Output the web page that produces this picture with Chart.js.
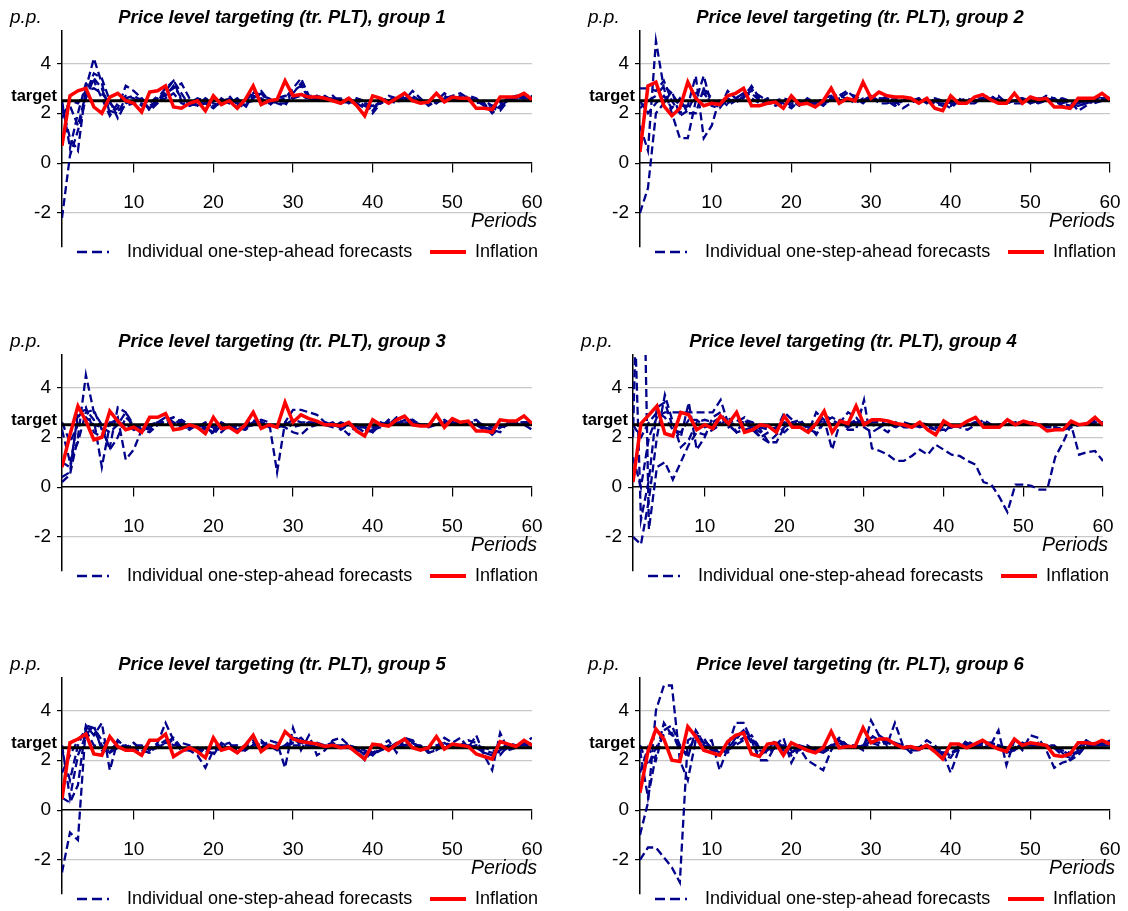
<!DOCTYPE html>
<html>
<head>
<meta charset="utf-8">
<script src="https://cdn.jsdelivr.net/npm/chart.js@4.4.1/dist/chart.umd.min.js"></script>
<style>
html, body { margin: 0; padding: 0; background: #fff; }
#wrap { position: relative; width: 1128px; height: 911px; overflow: hidden; }
#wrap canvas { position: absolute; }
</style>
</head>
<body>
<div id="wrap"></div>
<script>
// periods 1..60 (x categories)
const periods = Array.from({ length: 60 }, (_, i) => i + 1);
const target = 2.5;
const yTicks = [-2, 0, 2, 4];
const xTicks = [10, 20, 30, 40, 50, 60];
const titles = [
    "Price level targeting (tr. PLT), group 1",
    "Price level targeting (tr. PLT), group 2",
    "Price level targeting (tr. PLT), group 3",
    "Price level targeting (tr. PLT), group 4",
    "Price level targeting (tr. PLT), group 5",
    "Price level targeting (tr. PLT), group 6"
];

// group 1
const infl1 = [0.7,2.7,2.9,3.0,2.25,2.0,2.65,2.8,2.5,2.4, 2.05,2.85,2.9,3.1,2.25,2.2,2.4,2.5,2.1,2.7, 2.35,2.5,2.2,2.55,3.1,2.35,2.5,2.55,3.3,2.7, 2.75,2.65,2.65,2.6,2.5,2.4,2.6,2.3,1.9,2.7, 2.6,2.4,2.6,2.8,2.5,2.4,2.45,2.8,2.45,2.65, 2.6,2.6,2.2,2.2,2.15,2.65,2.65,2.65,2.8,2.55];
const g1f1 = [-2.2,0.3,1.3,2.6,3.4,3.0,2.1,2.0,2.6,2.7, 2.5,2.2,2.6,3.0,3.3,2.5,2.4,2.3,2.4,2.2, 2.6,2.4,2.5,2.3,2.6,2.8,2.4,2.5,2.6,3.0, 3.4,2.7,2.7,2.6,2.6,2.5,2.4,2.5,2.3,2.1, 2.5,2.6,2.5,2.6,2.7,2.5,2.4,2.4,2.7,2.5, 2.6,2.6,2.5,2.3,2.2,2.1,2.5,2.6,2.7,2.6];
const g1f2 = [2.3,1.0,0.5,3.0,4.2,3.2,2.0,2.2,3.1,2.9, 2.6,2.3,2.5,2.9,3.3,2.8,2.3,2.5,2.3,2.6, 2.4,2.6,2.4,2.2,2.8,2.9,2.5,2.4,2.4,2.9, 3.1,2.6,2.7,2.5,2.6,2.6,2.4,2.6,2.5,2.0, 2.4,2.7,2.6,2.5,2.9,2.6,2.3,2.5,2.6,2.7, 2.8,2.6,2.5,2.4,2.0,2.3,2.6,2.7,2.6,2.5];
const g1f3 = [2.0,2.3,1.5,2.8,3.6,3.4,2.5,1.8,2.4,2.5, 2.6,2.1,2.4,2.8,3.0,3.2,2.6,2.3,2.6,2.4, 2.3,2.7,2.3,2.4,2.9,2.7,2.6,2.4,2.3,2.8, 3.2,2.6,2.5,2.7,2.5,2.5,2.6,2.4,2.2,2.3, 2.6,2.5,2.4,2.7,2.6,2.4,2.5,2.5,2.8,2.6, 2.5,2.7,2.6,2.3,2.1,2.4,2.6,2.7,2.8,2.6];
const g1f4 = [2.5,0.6,2.0,3.2,3.3,2.6,1.9,2.4,2.7,2.6, 2.3,2.4,2.7,2.7,3.1,2.6,2.4,2.6,2.5,2.2, 2.5,2.4,2.6,2.3,2.7,2.6,2.3,2.6,2.7,2.6, 2.8,2.5,2.6,2.5,2.7,2.4,2.5,2.5,2.4,2.3, 2.4,2.5,2.6,2.6,2.5,2.5,2.5,2.4,2.6,2.5, 2.7,2.5,2.4,2.5,2.3,2.2,2.5,2.6,2.6,2.7];
const g1f5 = [1.8,2.5,2.4,2.9,3.0,2.8,2.4,2.1,2.3,2.4, 2.4,2.2,2.5,2.6,2.8,2.4,2.3,2.4,2.4,2.3, 2.4,2.5,2.4,2.4,2.5,2.6,2.4,2.5,2.5,2.6, 2.7,2.6,2.6,2.6,2.5,2.5,2.5,2.4,2.3,2.2, 2.5,2.5,2.5,2.6,2.6,2.5,2.5,2.5,2.6,2.6, 2.6,2.6,2.5,2.4,2.3,2.3,2.5,2.6,2.6,2.6];

// group 2
const infl2 = [0.45,3.1,3.25,2.3,1.9,2.2,3.25,2.6,2.3,2.4, 2.35,2.7,2.8,3.0,2.3,2.3,2.4,2.45,2.2,2.7, 2.35,2.4,2.25,2.5,3.0,2.4,2.6,2.5,3.25,2.6, 2.85,2.7,2.65,2.65,2.6,2.4,2.6,2.2,2.1,2.7, 2.4,2.4,2.65,2.75,2.55,2.4,2.4,2.8,2.4,2.65, 2.55,2.6,2.25,2.25,2.2,2.6,2.6,2.6,2.8,2.55];
const g2f1 = [-2.0,-1.0,2.0,2.4,2.9,1.9,2.1,2.8,3.0,2.3, 2.4,2.4,2.6,2.8,3.0,2.5,2.4,2.4,2.5,2.3, 2.5,2.4,2.3,2.4,2.6,2.8,2.5,2.6,2.5,2.7, 2.5,2.6,2.4,2.5,2.6,2.5,2.5,2.4,2.3,2.3, 2.6,2.4,2.4,2.6,2.7,2.5,2.4,2.5,2.6,2.4, 2.6,2.6,2.5,2.3,2.2,2.4,2.5,2.5,2.6,2.6];
const g2f2 = [1.5,0.5,4.9,3.0,2.0,1.0,1.0,2.5,3.5,2.3, 2.2,2.6,2.4,2.7,2.9,2.7,2.5,2.5,2.4,2.2, 2.5,2.4,2.5,2.3,2.6,2.7,2.9,2.6,2.4,2.7, 2.6,2.5,2.3,2.5,2.6,2.4,2.6,2.5,2.4,2.2, 2.5,2.5,2.5,2.5,2.6,2.7,2.4,2.5,2.6,2.4, 2.5,2.7,2.6,2.4,2.5,2.1,2.3,2.5,2.6,2.5];
const g2f3 = [3.0,3.0,2.9,3.3,2.5,2.0,2.3,3.5,1.0,1.5, 2.6,2.3,2.5,2.6,3.1,2.6,2.5,2.3,2.4,2.5, 2.4,2.5,2.3,2.5,2.6,2.6,2.8,2.7,2.5,2.7, 2.4,2.4,2.5,2.2,2.4,2.6,2.5,2.5,2.3,2.5, 2.4,2.4,2.6,2.6,2.6,2.4,2.5,2.5,2.5,2.5, 2.4,2.5,2.6,2.5,2.4,2.3,2.4,2.5,2.7,2.6];
const g2f4 = [2.5,2.0,2.4,2.7,2.2,2.6,2.0,2.0,3.0,2.6, 2.2,2.9,2.6,2.8,2.6,2.4,2.6,2.5,2.6,2.5, 2.3,2.6,2.4,2.6,2.7,2.5,2.6,2.4,2.6,2.6, 2.5,2.7,2.6,2.5,2.5,2.6,2.4,2.6,2.5,2.4, 2.5,2.6,2.5,2.6,2.5,2.6,2.5,2.4,2.4,2.6, 2.5,2.5,2.5,2.6,2.5,2.4,2.5,2.4,2.5,2.5];
const g2f5 = [2.2,2.5,2.7,3.1,2.8,2.3,2.3,2.6,2.8,2.4, 2.4,2.5,2.5,2.7,2.8,2.5,2.4,2.4,2.5,2.4, 2.4,2.5,2.4,2.4,2.5,2.6,2.6,2.5,2.5,2.6, 2.6,2.6,2.5,2.5,2.5,2.5,2.5,2.4,2.4,2.3, 2.5,2.5,2.5,2.6,2.6,2.5,2.5,2.5,2.6,2.5, 2.5,2.6,2.5,2.4,2.3,2.3,2.4,2.5,2.6,2.5];

// group 3
const infl3 = [0.8,2.1,3.25,2.65,1.9,2.0,3.05,2.65,2.3,2.4, 2.2,2.8,2.8,2.95,2.3,2.35,2.5,2.4,2.15,2.8, 2.35,2.4,2.2,2.5,3.0,2.35,2.5,2.4,3.4,2.6, 2.9,2.75,2.65,2.5,2.5,2.45,2.6,2.25,2.05,2.7, 2.5,2.45,2.7,2.85,2.5,2.45,2.45,2.9,2.4,2.75, 2.6,2.65,2.25,2.25,2.2,2.7,2.65,2.65,2.85,2.55];
const g3f1 = [0.2,0.5,2.0,4.5,3.0,2.5,1.5,2.0,2.8,2.5, 2.3,2.4,2.6,2.6,2.8,2.6,2.4,2.5,2.4,2.2, 2.6,2.4,2.4,2.3,2.6,2.7,2.6,0.6,2.6,3.1, 3.1,3.0,2.9,2.6,2.5,2.4,2.5,2.5,2.3,2.2, 2.6,2.5,2.5,2.6,2.7,2.5,2.5,2.5,2.6,2.6, 2.6,2.6,2.6,2.4,2.3,2.4,2.5,2.6,2.6,2.6];
const g3f2 = [0.4,0.6,3.0,3.1,2.7,0.8,2.5,2.8,1.1,1.5, 2.3,2.2,2.5,2.7,2.8,2.4,2.4,2.4,2.5,2.1, 2.5,2.4,2.3,2.4,2.6,2.6,2.5,2.5,2.4,2.2, 2.1,2.4,2.5,2.6,2.5,2.4,2.1,2.5,2.4,2.3, 2.4,2.7,2.5,2.6,2.6,2.5,2.4,2.5,2.5,2.6, 2.5,2.6,2.7,2.4,2.3,2.2,2.6,2.5,2.5,2.3];
const g3f3 = [2.3,1.0,1.8,3.0,3.1,2.3,1.6,3.2,3.0,2.3, 2.4,2.3,2.5,2.6,2.5,2.6,2.3,2.5,2.5,2.4, 2.2,2.5,2.4,2.3,2.5,2.6,2.4,2.5,2.6,2.4, 2.5,2.6,2.5,2.5,2.6,2.3,2.5,2.4,2.4,2.2, 2.5,2.5,2.8,2.5,2.6,2.5,2.5,2.5,2.6,2.5, 2.6,2.5,2.5,2.4,2.1,2.4,2.5,2.5,2.6,2.5];
const g3f4 = [2.6,1.8,2.5,2.8,2.5,2.4,2.2,2.5,3.0,2.5, 2.4,2.4,2.6,2.7,2.6,2.7,2.5,2.4,2.6,2.4, 2.4,2.5,2.5,2.4,2.5,2.6,2.5,2.4,2.5,2.5, 2.5,2.5,2.6,2.5,2.4,2.6,2.5,2.5,2.4,2.4, 2.5,2.6,2.6,2.6,2.5,2.5,2.5,2.5,2.6,2.5, 2.5,2.5,2.6,2.5,2.4,2.4,2.5,2.5,2.6,2.5];
const g3f5 = [1.0,0.8,2.8,3.2,2.2,2.0,2.6,2.6,2.5,2.3, 2.2,2.5,2.6,2.8,2.6,2.4,2.4,2.5,2.3,2.3, 2.6,2.4,2.3,2.5,2.7,2.5,2.5,2.4,2.5,2.7, 2.6,2.6,2.6,2.5,2.5,2.5,2.5,2.4,2.2,2.3, 2.6,2.5,2.5,2.7,2.7,2.5,2.5,2.5,2.7,2.5, 2.6,2.6,2.5,2.3,2.2,2.4,2.6,2.6,2.6,2.6];

// group 4
const infl4 = [0.2,2.55,2.9,3.25,2.15,2.05,3.0,2.9,2.3,2.5, 2.35,2.85,2.55,3.0,2.2,2.3,2.5,2.45,2.2,2.85, 2.4,2.4,2.2,2.55,3.05,2.2,2.65,2.55,3.25,2.5, 2.7,2.7,2.65,2.55,2.5,2.4,2.6,2.3,2.1,2.65, 2.45,2.45,2.65,2.8,2.4,2.4,2.4,2.7,2.5,2.65, 2.55,2.5,2.25,2.3,2.3,2.65,2.5,2.55,2.8,2.5];
const g4f1 = [-2.0,-2.3,-0.5,2.0,3.7,2.6,1.6,1.9,2.6,2.7, 2.6,2.8,2.5,2.2,2.7,2.6,2.3,1.8,1.8,2.4, 2.6,2.6,2.3,2.4,2.9,2.7,2.5,2.4,2.6,2.6, 2.5,2.4,2.6,2.5,2.5,2.4,2.5,2.5,2.4,2.4, 2.4,2.5,2.5,2.6,2.6,2.5,2.5,2.5,2.6,2.6, 2.5,2.5,2.5,2.4,2.3,2.4,2.5,2.5,2.6,2.6];
const g4f2 = [9.0,-1.3,0.3,3.2,3.4,2.4,2.0,3.4,1.5,2.0, 2.8,3.0,2.4,2.6,2.8,2.4,2.2,2.5,2.3,3.0, 2.7,2.4,2.5,2.1,2.6,2.8,2.6,3.0,2.8,2.4, 2.2,2.4,2.2,2.6,2.4,2.4,2.6,2.5,2.4,2.2, 2.5,2.4,2.3,2.5,2.7,2.5,2.5,2.6,2.5,2.5, 2.6,2.5,2.5,2.4,2.3,2.5,2.5,2.5,2.7,2.5];
const g4f3 = [2.0,15.0,-1.7,0.8,1.0,0.3,1.0,1.7,2.2,2.1, 2.3,2.5,2.8,2.2,2.3,2.4,2.0,1.8,2.1,2.4, 2.6,2.7,2.3,2.2,2.6,2.5,2.7,2.5,2.6,2.5, 2.7,2.6,2.5,2.4,2.6,2.5,2.4,2.5,2.3,2.3, 2.4,2.5,2.5,2.6,2.5,2.4,2.5,2.5,2.6,2.6, 2.6,2.5,2.5,2.3,2.4,2.4,2.5,2.5,2.6,2.5];
const g4f4 = [1.2,0.0,2.0,2.8,3.0,3.0,3.0,3.0,3.0,3.0, 3.0,3.5,2.5,2.2,2.7,2.3,2.0,2.2,2.4,2.2, 2.5,2.4,2.2,3.0,2.7,1.5,2.6,2.3,2.3,3.5, 1.55,1.45,1.3,1.05,1.05,1.25,1.5,1.3,1.7,1.5, 1.3,1.25,1.05,0.9,0.2,0.1,-0.4,-1.0,0.1,0.1, 0.05,-0.1,-0.1,1.2,1.8,2.5,1.3,1.4,1.45,1.05];
const g4f5 = [2.5,2.0,2.6,3.0,2.8,2.3,2.2,2.7,2.7,2.4, 2.5,2.6,2.6,2.7,2.5,2.4,2.4,2.3,2.4,2.6, 2.5,2.5,2.4,2.5,2.7,2.5,2.6,2.5,2.7,2.6, 2.6,2.6,2.5,2.5,2.5,2.4,2.5,2.4,2.3,2.5, 2.5,2.4,2.5,2.6,2.5,2.5,2.5,2.5,2.6,2.5, 2.6,2.5,2.4,2.4,2.3,2.5,2.5,2.5,2.6,2.6];

// group 5
const infl5 = [0.45,2.7,2.85,3.05,2.25,2.2,2.95,2.55,2.4,2.4, 2.2,2.8,2.8,3.05,2.15,2.35,2.5,2.35,2.1,2.9, 2.4,2.5,2.3,2.6,3.0,2.35,2.6,2.5,3.15,2.85, 2.75,2.7,2.65,2.55,2.6,2.5,2.55,2.3,2.05,2.65, 2.6,2.4,2.65,2.85,2.5,2.4,2.5,2.95,2.45,2.65, 2.6,2.55,2.25,2.15,2.05,2.75,2.65,2.55,2.8,2.6];
const g5f1 = [-2.5,-0.9,-1.2,3.4,3.3,2.8,2.4,2.6,2.5,2.4, 2.6,2.4,2.5,2.7,2.8,2.4,2.5,2.4,2.3,2.6, 2.6,2.5,2.5,2.4,2.6,2.7,2.6,2.4,2.6,2.9, 2.8,2.7,2.5,2.5,2.6,2.6,2.5,2.5,2.2,2.3, 2.5,2.6,2.5,2.6,2.7,2.5,2.5,2.6,2.7,2.6, 2.6,2.6,2.5,2.3,2.2,2.4,2.7,2.6,2.6,2.7];
const g5f2 = [0.5,0.3,1.0,3.4,3.0,3.5,1.6,2.8,2.5,2.6, 2.6,2.4,2.7,3.5,2.8,2.5,2.4,2.2,1.7,2.4, 2.6,2.7,2.3,2.6,2.8,2.5,2.8,2.7,1.7,3.3, 2.4,3.0,2.2,2.4,2.8,2.9,2.6,2.4,2.0,2.4, 2.6,2.8,2.3,2.9,2.8,2.4,2.5,2.5,2.9,2.7, 2.9,2.5,3.0,2.2,1.6,3.1,2.4,2.5,2.7,2.9];
const g5f3 = [2.4,1.2,2.6,3.3,3.2,2.6,2.3,2.8,2.5,2.7, 2.4,2.3,2.6,2.8,2.6,2.7,2.6,2.4,2.5,2.2, 2.7,2.5,2.6,2.4,2.6,2.8,2.5,2.6,2.5,2.6, 2.6,2.6,2.7,2.6,2.7,2.5,2.6,2.5,2.4,2.2, 2.5,2.5,2.7,2.6,2.6,2.6,2.3,2.4,2.6,2.5, 2.6,2.8,2.7,2.4,2.3,2.2,2.6,2.6,2.7,2.6];
const g5f4 = [2.6,0.5,2.2,3.0,3.4,2.4,2.4,2.7,2.5,2.5, 2.5,2.5,2.5,2.7,2.9,2.5,2.4,2.5,2.4,2.5, 2.4,2.6,2.6,2.5,2.7,2.6,2.5,2.5,2.5,2.7, 2.9,2.6,2.6,2.5,2.5,2.6,2.6,2.5,2.3,2.3, 2.4,2.6,2.5,2.7,2.8,2.5,2.3,2.4,2.7,2.5, 2.5,2.5,2.6,2.5,2.4,2.3,2.5,2.6,2.6,2.5];
const g5f5 = [1.5,2.2,2.8,3.2,2.6,2.5,2.3,2.5,2.6,2.4, 2.4,2.3,2.6,2.7,2.7,2.4,2.4,2.5,2.3,2.3, 2.5,2.5,2.4,2.4,2.6,2.6,2.5,2.5,2.5,2.8, 2.7,2.6,2.6,2.6,2.5,2.5,2.5,2.4,2.3,2.2, 2.4,2.5,2.5,2.6,2.7,2.5,2.4,2.5,2.7,2.5, 2.5,2.6,2.5,2.3,2.2,2.4,2.6,2.6,2.6,2.6];

// group 6
const infl6 = [0.7,2.35,3.25,2.85,2.0,1.95,3.35,2.95,2.4,2.3, 2.2,2.75,3.0,3.1,2.25,2.15,2.65,2.7,2.2,2.7, 2.55,2.4,2.3,2.5,3.15,2.5,2.55,2.55,3.3,2.7, 2.85,2.85,2.65,2.5,2.55,2.45,2.6,2.35,2.05,2.65, 2.65,2.5,2.65,2.8,2.6,2.45,2.35,2.85,2.6,2.7, 2.65,2.6,2.2,2.15,2.25,2.7,2.7,2.65,2.8,2.65];
const g6f1 = [-2.0,-1.5,-1.5,-1.9,-2.3,-2.9,2.8,3.0,2.6,2.5, 2.3,2.4,2.9,3.2,2.7,2.2,2.4,2.8,2.5,2.2, 2.6,2.5,2.4,2.3,2.6,2.9,2.6,2.5,2.6,3.0, 2.8,2.7,2.7,2.6,2.5,2.4,2.6,2.5,2.2,2.1, 2.6,2.6,2.5,2.7,2.7,2.6,2.4,2.5,2.7,2.6, 2.7,2.6,2.5,2.2,2.1,2.4,2.7,2.6,2.7,2.7];
const g6f2 = [-1.0,0.3,4.0,5.0,5.0,2.0,1.2,2.8,2.7,2.8, 1.6,2.5,3.5,3.5,2.8,2.0,2.0,2.6,2.9,1.9, 2.5,2.0,1.8,1.6,2.4,2.8,2.5,2.6,2.4,3.6, 3.0,2.6,3.5,2.6,2.3,2.5,2.8,2.6,2.3,1.5, 2.4,2.8,2.6,2.5,2.6,3.2,1.8,2.8,2.4,3.0, 2.9,2.4,1.7,1.9,2.0,2.5,2.8,2.6,2.6,2.8];
const g6f3 = [2.4,0.5,2.2,3.5,3.0,2.6,2.1,3.2,2.7,2.4, 2.3,2.5,2.8,3.2,2.9,2.4,2.3,2.5,2.4,2.3, 2.5,2.4,2.5,2.4,2.6,2.8,2.6,2.5,2.6,2.9, 3.0,2.8,2.7,2.5,2.4,2.4,2.6,2.4,2.3,2.2, 2.5,2.7,2.6,2.7,2.7,2.6,2.3,2.4,2.7,2.6, 2.6,2.6,2.6,2.3,2.0,2.2,2.6,2.7,2.7,2.6];
const g6f4 = [1.5,2.5,2.0,3.2,3.4,2.6,2.5,2.8,2.8,2.5, 2.5,2.4,2.6,2.8,3.0,2.5,2.4,2.6,2.6,2.4, 2.4,2.6,2.4,2.4,2.6,2.7,2.5,2.6,2.5,2.7, 2.6,2.7,2.6,2.6,2.5,2.5,2.5,2.5,2.3,2.3, 2.5,2.6,2.6,2.6,2.6,2.6,2.5,2.4,2.6,2.6, 2.6,2.5,2.5,2.4,2.3,2.3,2.6,2.6,2.6,2.6];
const g6f5 = [2.6,1.8,2.5,3.0,3.1,2.4,2.3,3.0,2.9,2.4, 2.4,2.3,2.7,2.9,2.8,2.6,2.3,2.5,2.6,2.3, 2.6,2.5,2.4,2.3,2.5,2.8,2.6,2.6,2.5,2.8, 2.7,2.8,2.6,2.6,2.5,2.5,2.6,2.4,2.3,2.3, 2.4,2.6,2.5,2.6,2.7,2.5,2.5,2.4,2.6,2.6, 2.6,2.6,2.5,2.4,2.2,2.3,2.5,2.6,2.7,2.6];

const inflation = [infl1, infl2, infl3, infl4, infl5, infl6];
const forecasts = [
    [g1f1, g1f2, g1f3, g1f4, g1f5],
    [g2f1, g2f2, g2f3, g2f4, g2f5],
    [g3f1, g3f2, g3f3, g3f4, g3f5],
    [g4f1, g4f2, g4f3, g4f4, g4f5],
    [g5f1, g5f2, g5f3, g5f4, g5f5],
    [g6f1, g6f2, g6f3, g6f4, g6f5]
];

// canvas placement for each panel
const panelPos = [[0, 0], [578, 0], [0, 324], [571, 324], [0, 647], [578, 647]];

const FONT = "'Liberation Sans', Arial, sans-serif";
const NAVY = "#00008B";
const W = 550, H = 264;
const Y_W = 30;

const toXY = arr => arr.map((v, i) => ({ x: periods[i], y: v }));

const overlay = {
    id: "overlay",
    afterDraw(chart) {
        const ctx = chart.ctx;
        const ca = chart.chartArea;
        const ys = chart.scales.y;
        ctx.save();
        ctx.fillStyle = "#000";
        ctx.textBaseline = "middle";

        ctx.font = "italic bold 18.5px " + FONT;
        ctx.textAlign = "center";
        ctx.fillText(chart.options.plugins.overlay.title, 282, 18);

        ctx.font = "italic 19px " + FONT;
        ctx.textAlign = "left";
        ctx.fillText("p.p.", 10, 18);

        ctx.font = "bold 16.5px " + FONT;
        ctx.textAlign = "right";
        ctx.fillText("target", ca.left - 5, ys.getPixelForValue(target) - 4);

        ctx.font = "italic 19.5px " + FONT;
        ctx.textAlign = "right";
        ctx.fillText("Periods", ca.right + 5, 222);

        // legend
        const ly = 252;
        ctx.lineWidth = 2.5;
        ctx.strokeStyle = NAVY;
        ctx.setLineDash([10, 5]);
        ctx.beginPath();
        ctx.moveTo(ca.left + 15, ly);
        ctx.lineTo(ca.left + 47, ly);
        ctx.stroke();
        ctx.setLineDash([]);
        ctx.font = "18px " + FONT;
        ctx.textAlign = "left";
        ctx.fillText("Individual one-step-ahead forecasts", ca.left + 65, ly);

        ctx.lineWidth = 4;
        ctx.strokeStyle = "#FF0000";
        ctx.beginPath();
        ctx.moveTo(ca.left + 368, ly);
        ctx.lineTo(ca.left + 404, ly);
        ctx.stroke();
        ctx.fillText("Inflation", ca.left + 413, ly);
        ctx.restore();
    }
};

const wrap = document.getElementById("wrap");

for (let g = 0; g < 6; g++) {
    const canvas = document.createElement("canvas");
    canvas.width = W;
    canvas.height = H;
    canvas.style.left = panelPos[g][0] + "px";
    canvas.style.top = panelPos[g][1] + "px";
    wrap.appendChild(canvas);

    const datasets = [];
    datasets.push({
        data: toXY(inflation[g]),
        borderColor: "#FF0000",
        borderWidth: 3.5,
        pointRadius: 0,
        order: 0
    });
    datasets.push({
        data: [{ x: periods[0], y: target }, { x: periods[periods.length - 1], y: target }],
        borderColor: "#000",
        borderWidth: 3,
        pointRadius: 0,
        order: 1
    });
    forecasts[g].forEach(f => {
        datasets.push({
            data: toXY(f),
            borderColor: NAVY,
            borderWidth: 2.3,
            borderDash: [8, 4],
            pointRadius: 0,
            order: 2
        });
    });

    new Chart(canvas.getContext("2d"), {
        type: "line",
        data: { datasets },
        plugins: [overlay],
        options: {
            responsive: false,
            animation: false,
            layout: { padding: { left: 62 - Y_W, top: 31, right: W - 532, bottom: H - 248 } },
            plugins: {
                legend: { display: false },
                tooltip: { enabled: false },
                overlay: { title: titles[g] }
            },
            scales: {
                x: {
                    type: "linear",
                    min: 1,
                    max: 60,
                    position: { y: 0 },
                    afterBuildTicks: s => { s.ticks = xTicks.map(v => ({ value: v })); },
                    afterFit: s => { s.paddingLeft = 0; s.paddingRight = 0; },
                    grid: { drawOnChartArea: false, tickLength: 9, color: "#000", lineWidth: 1.2 },
                    border: { color: "#000", width: 1.5 },
                    ticks: { padding: 19, color: "#000", maxRotation: 0, autoSkip: false, font: { family: FONT, size: 19 } }
                },
                y: {
                    min: -3.35,
                    max: 5.3,
                    afterBuildTicks: s => { s.ticks = yTicks.map(v => ({ value: v })); },
                    afterFit: s => { s.width = Y_W; },
                    grid: {
                        color: c => (c.tick && c.tick.value === 0) ? "rgba(0,0,0,0)" : "#c8c8c8",
                        tickColor: "#000",
                        tickLength: 5,
                        lineWidth: 1.2
                    },
                    border: { color: "#000", width: 1.5 },
                    ticks: { padding: 6, color: "#000", font: { family: FONT, size: 19 } }
                }
            }
        }
    });
}
</script>
</body>
</html>
